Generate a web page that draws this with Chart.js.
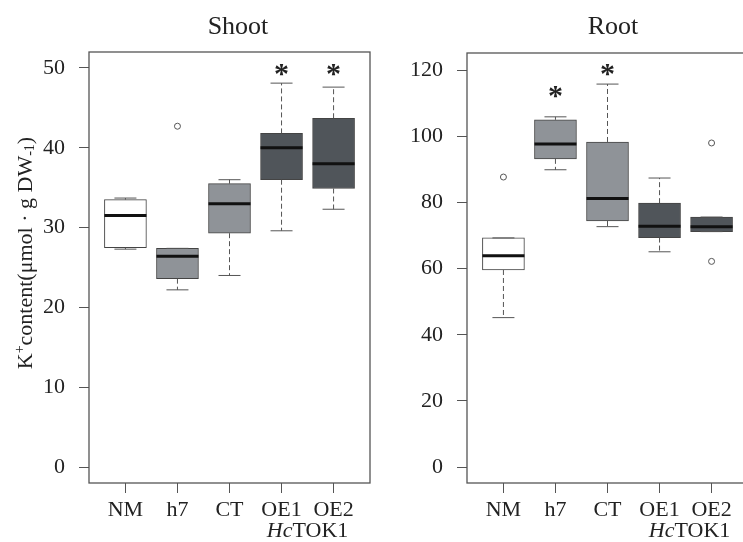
<!DOCTYPE html>
<html lang="en">
<head>
<meta charset="UTF-8">
<title>K+ content in shoot and root</title>
<script src="https://cdn.jsdelivr.net/npm/chart.js"></script>
<style>
  html, body { margin: 0; padding: 0; background: #fff; overflow: hidden; }
  #wrap { position: relative; width: 743px; height: 542px; overflow: hidden; }
  .panel { position: absolute; top: 0; width: 380px; height: 542px; }
</style>
</head>
<body>
<div id="wrap">
  <div class="panel" style="left:0"><canvas id="shootChart"></canvas></div>
  <div class="panel" style="left:380px"><canvas id="rootChart"></canvas></div>
</div>
<script>
    const genotypes = ['NM', 'h7', 'CT', 'OE1', 'OE2'];
    const boxColors = ['#ffffff', '#8f9398', '#8f9398', '#50555a', '#50555a'];

    // shoot (whisker low, Q1, median, Q3, whisker high)
    const shootMin = [27.3, 22.2, 24.0, 29.6, 32.3];
    const shootQ1 = [27.5, 23.6, 29.3, 36.0, 34.9];
    const shootMedian = [31.5, 26.4, 33.0, 40.0, 38.0];
    const shootQ3 = [33.5, 27.4, 35.5, 41.8, 43.7];
    const shootMax = [33.7, 27.4, 36.0, 48.1, 47.6];
    const shootOutlierGroup = [2];
    const shootOutlierValue = [42.7];
    const shootStarGroup = [4, 5];
    const shootStarValue = [49.8, 49.8];
    const shootTicks = [0, 10, 20, 30, 40, 50];

    // root
    const rootMin = [45.2, 89.9, 72.7, 65.1, 71.2];
    const rootQ1 = [59.6, 93.2, 74.4, 69.4, 71.2];
    const rootMedian = [63.9, 97.7, 81.2, 72.8, 72.7];
    const rootQ3 = [69.3, 105.0, 98.3, 79.8, 75.6];
    const rootMax = [69.3, 105.9, 115.8, 87.4, 75.6];
    const rootOutlierGroup = [1, 5, 5];
    const rootOutlierValue = [87.7, 98.0, 62.2];
    const rootStarGroup = [2, 3];
    const rootStarValue = [113.5, 120.2];
    const rootTicks = [0, 20, 40, 60, 80, 100, 120];

    const textColor = '#222';
    const lineColor = '#555';
    const serif = '"Liberation Serif", "Times New Roman", serif';

    function extrasPlugin(d) {
        return {
            id: 'boxExtras',
            afterDatasetsDraw(chart) {
                const ctx = chart.ctx, area = chart.chartArea;
                const xs = chart.scales.x, ys = chart.scales.y;
                const half = 21, cap = 11;
                ctx.save();
                for (let i = 0; i < d.median.length; i++) {
                    const cx = xs.getPixelForValue(i + 1);
                    ctx.strokeStyle = lineColor;
                    ctx.lineWidth = 1;
                    ctx.setLineDash([5, 3]);
                    ctx.beginPath();
                    ctx.moveTo(cx, ys.getPixelForValue(d.q3[i]));
                    ctx.lineTo(cx, ys.getPixelForValue(d.max[i]));
                    ctx.moveTo(cx, ys.getPixelForValue(d.q1[i]));
                    ctx.lineTo(cx, ys.getPixelForValue(d.min[i]));
                    ctx.stroke();
                    ctx.setLineDash([]);
                    ctx.beginPath();
                    [d.max[i], d.min[i]].forEach(v => {
                        const py = ys.getPixelForValue(v);
                        ctx.moveTo(cx - cap, py);
                        ctx.lineTo(cx + cap, py);
                    });
                    ctx.stroke();
                    // median
                    ctx.strokeStyle = '#111';
                    ctx.lineWidth = 3;
                    ctx.beginPath();
                    const my = ys.getPixelForValue(d.median[i]);
                    ctx.moveTo(cx - half, my);
                    ctx.lineTo(cx + half, my);
                    ctx.stroke();
                }
                // frame
                ctx.strokeStyle = lineColor;
                ctx.lineWidth = 1.3;
                ctx.strokeRect(area.left, area.top, area.right - area.left, area.bottom - area.top);
                // asterisks
                ctx.fillStyle = textColor;
                ctx.font = 'bold 30px ' + serif;
                ctx.textAlign = 'center';
                ctx.textBaseline = 'alphabetic';
                d.starGroup.forEach((g, k) => {
                    const m = ctx.measureText('*');
                    const py = ys.getPixelForValue(d.starValue[k]);
                    const off = (m.actualBoundingBoxAscent - m.actualBoundingBoxDescent) / 2;
                    ctx.fillText('*', xs.getPixelForValue(g), py + off);
                });
                ctx.restore();
            },
            afterDraw(chart) {
                const ctx = chart.ctx;
                const xs = chart.scales.x;
                ctx.save();
                ctx.fillStyle = textColor;
                ctx.textBaseline = 'alphabetic';
                // panel title
                ctx.font = '26px ' + serif;
                ctx.textAlign = 'center';
                ctx.fillText(d.title, d.titleX, 34);
                // group label under OE1/OE2
                ctx.textAlign = 'left';
                ctx.font = 'italic 22px ' + serif;
                const w1 = ctx.measureText('Hc').width;
                ctx.font = '22px ' + serif;
                const w2 = ctx.measureText('TOK1').width;
                const gx = xs.getPixelForValue(4.5) + d.groupShift - (w1 + w2) / 2;
                ctx.font = 'italic 22px ' + serif;
                ctx.fillText('Hc', gx, 537);
                ctx.font = '22px ' + serif;
                ctx.fillText('TOK1', gx + w1, 537);
                // y axis title
                if (d.yLabel) {
                    const parts = [
                        ['K', 22, 0], ['+', 14, -8], ['content(\u03bcmol \u00b7 g DW', 22, 0], ['-1', 14, 2], [')', 22, 0]
                    ];
                    let total = 0;
                    parts.forEach(p => { ctx.font = p[1] + 'px ' + serif; total += ctx.measureText(p[0]).width; });
                    ctx.translate(32, 253);
                    ctx.rotate(-Math.PI / 2);
                    let px = -total / 2;
                    parts.forEach(p => {
                        ctx.font = p[1] + 'px ' + serif;
                        ctx.fillText(p[0], px, p[2]);
                        px += ctx.measureText(p[0]).width;
                    });
                }
                ctx.restore();
            }
        };
    }

    function makeChart(id, d) {
        const boxData = genotypes.map((g, i) => ({ x: i + 1, y: [d.q1[i], d.q3[i]] }));
        const outliers = d.outlierGroup.map((g, k) => ({ x: g, y: d.outlierValue[k] }));
        return new Chart(document.getElementById(id).getContext('2d'), {
            type: 'bar',
            data: {
                datasets: [{
                    type: 'bar',
                    data: boxData,
                    backgroundColor: boxColors,
                    borderColor: '#444',
                    borderWidth: 1,
                    borderSkipped: false,
                    barThickness: 42
                }, {
                    type: 'scatter',
                    data: outliers,
                    pointStyle: 'circle',
                    pointRadius: 3,
                    backgroundColor: '#fff',
                    borderColor: lineColor,
                    borderWidth: 1
                }]
            },
            options: {
                responsive: true,
                maintainAspectRatio: false,
                animation: false,
                layout: { padding: { top: d.padTop, right: d.padRight, left: 0, bottom: 0 } },
                plugins: { legend: { display: false }, tooltip: { enabled: false }, title: { display: false } },
                scales: {
                    x: {
                        type: 'linear',
                        min: 0.3,
                        max: 5.7,
                        offset: false,
                        grid: { offset: false, drawOnChartArea: false, drawTicks: true, tickLength: 10, color: lineColor },
                        border: { display: false },
                        afterBuildTicks: s => { s.ticks = genotypes.map((g, i) => ({ value: i + 1 })); },
                        afterFit: s => { s.height = 59; },
                        ticks: {
                            padding: 4,
                            color: textColor,
                            font: { family: serif, size: 22 },
                            callback: v => genotypes[v - 1]
                        }
                    },
                    y: {
                        min: d.yMin,
                        max: d.yMax,
                        grid: { drawOnChartArea: false, drawTicks: true, tickLength: 10, color: lineColor },
                        border: { display: false },
                        afterBuildTicks: s => { s.ticks = d.ticks.map(v => ({ value: v })); },
                        afterFit: s => { s.width = d.yWidth; },
                        ticks: {
                            padding: 14,
                            color: textColor,
                            font: { family: serif, size: 22 }
                        }
                    }
                }
            },
            plugins: [extrasPlugin(d)]
        });
    }

    makeChart('shootChart', {
        title: 'Shoot', titleX: 238, yLabel: true, groupShift: 0,
        min: shootMin, q1: shootQ1, median: shootMedian, q3: shootQ3, max: shootMax,
        outlierGroup: shootOutlierGroup, outlierValue: shootOutlierValue,
        starGroup: shootStarGroup, starValue: shootStarValue,
        ticks: shootTicks, yMin: -2, yMax: 52,
        yWidth: 89, padTop: 52, padRight: 10
    });

    makeChart('rootChart', {
        title: 'Root', titleX: 233, yLabel: false, groupShift: 4,
        min: rootMin, q1: rootQ1, median: rootMedian, q3: rootQ3, max: rootMax,
        outlierGroup: rootOutlierGroup, outlierValue: rootOutlierValue,
        starGroup: rootStarGroup, starValue: rootStarValue,
        ticks: rootTicks, yMin: -4.8, yMax: 125.2,
        yWidth: 87, padTop: 53, padRight: 12
    });
</script>
</body>
</html>
